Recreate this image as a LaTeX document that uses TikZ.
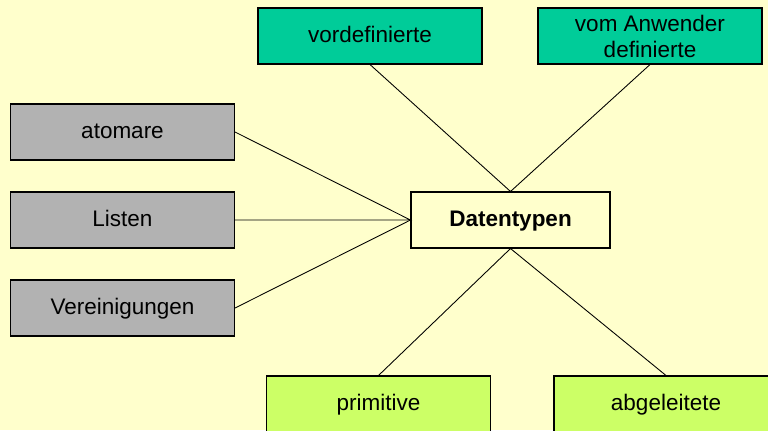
\documentclass[tikz,border=0pt]{standalone}
\usepackage{fontspec}
\setmainfont{Liberation Sans}
\usepackage{xcolor}
\definecolor{paper}{HTML}{FFFFCC}
\definecolor{teal}{HTML}{00CC99}
\definecolor{grau}{HTML}{B2B2B2}
\definecolor{gruen}{HTML}{CCFF66}
\tikzset{
  kasten/.style = {draw, line width=0.6pt, minimum width=4.48cm, minimum height=1.12cm,
                   inner sep=1pt, align=center, text height=0.7em, text depth=0pt,
                   font=\fontsize{12.8}{14.8}\selectfont},
  vorgabe/.style = {kasten, fill=teal},
  art/.style = {kasten, fill=grau},
  stufe/.style = {kasten, fill=gruen},
  kante/.style = {line width=0.5pt}
}

\begin{document}
\begin{tikzpicture}[x=0.2mm, y=-0.2mm]
         \fill[paper] (0,0) rectangle (768,430);
         \useasboundingbox (0,0) rectangle (768,430);
         \clip (0,0) rectangle (768,430);
         \node[kasten, fill=paper, minimum width=3.98cm, font=\fontsize{12.8}{14.8}\selectfont\bfseries] (DT) at (510.5,220) {Datentypen};
         \node[vorgabe] (VD) at (370,36) {vordefinierte};
         \node[vorgabe, text height=, text depth=] (AW) at (650,36) {vom Anwender\\definierte};
         \node[art] (AT) at (122.5,132) {atomare};
         \node[art] (LI) at (122.5,220) {Listen};
         \node[art] (VE) at (122.5,308) {Vereinigungen};
         \node[stufe] (PR) at (378.5,404) {primitive};
         \node[stufe] (AB) at (666,404) {abgeleitete};
         \draw[kante] (VD.south) -- (DT.north) -- (AW.south);
         \draw[kante] (AT.east) -- (DT.west) -- (LI.east);
         \draw[kante] (VE.east) -- (DT.west);
         \draw[kante] (PR.north) -- (DT.south) -- (AB.north);
    \end{tikzpicture}
\end{document}
